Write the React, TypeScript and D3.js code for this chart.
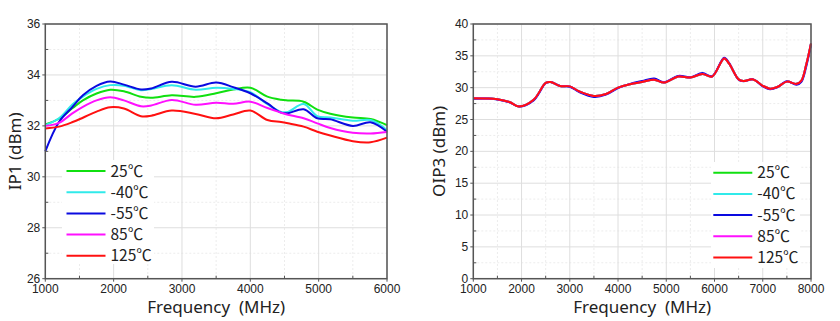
import React from "react";
import * as d3 from "d3";

const seriesNames = ["25℃", "-40℃", "-55℃", "85℃", "125℃"];
const seriesColors = ["#10e010", "#30eaea", "#0a0ae0", "#ff10ff", "#ff1010"];

// IP1 chart (left)
const ip1Freq = [1000, 1200, 1400, 1550, 1750, 1950, 2150, 2400, 2550, 2850, 3200, 3500, 3750, 4000, 4250, 4450, 4550, 4780, 4980, 5170, 5500, 5760, 6000];
const ip1_25 = [32.06, 32.28, 32.7, 33.0, 33.27, 33.42, 33.36, 33.14, 33.1, 33.2, 33.14, 33.28, 33.43, 33.5, 33.15, 33.03, 33.0, 32.95, 32.64, 32.48, 32.33, 32.27, 32.03];
const ip1_m40 = [32.03, 32.3, 32.85, 33.15, 33.45, 33.6, 33.58, 33.4, 33.45, 33.6, 33.42, 33.5, 33.45, 33.32, 32.85, 32.55, 32.55, 32.86, 32.38, 32.33, 32.2, 32.23, 31.84];
const ip1_m55 = [31.0, 32.15, 32.75, 33.2, 33.57, 33.74, 33.62, 33.43, 33.47, 33.73, 33.54, 33.7, 33.52, 33.28, 32.88, 32.52, 32.5, 32.65, 32.3, 32.26, 32.0, 32.14, 31.77];
const ip1_85 = [32.0, 32.12, 32.5, 32.75, 33.0, 33.12, 33.0, 32.77, 32.8, 33.02, 32.83, 32.91, 32.87, 32.95, 32.7, 32.52, 32.44, 32.3, 32.1, 31.92, 31.73, 31.7, 31.76];
const ip1_125 = [31.9, 31.97, 32.15, 32.32, 32.56, 32.73, 32.68, 32.38, 32.4, 32.6, 32.47, 32.3, 32.45, 32.6, 32.23, 32.15, 32.1, 31.97, 31.77, 31.62, 31.4, 31.36, 31.54];
const ip1Series = [ip1_25, ip1_m40, ip1_m55, ip1_85, ip1_125];
const ip1XTicks = [1000, 2000, 3000, 4000, 5000, 6000];
const ip1YTicks = [26, 28, 30, 32, 34, 36];

// OIP3 chart (right)
const oip3Freq = [1000, 1250, 1500, 1750, 1950, 2250, 2500, 2600, 2800, 3000, 3200, 3500, 3750, 4000, 4250, 4500, 4750, 4950, 5250, 5500, 5750, 5950, 6200, 6300, 6500, 6600, 6800, 7000, 7150, 7300, 7500, 7700, 7800, 7900, 8000];
const oip3_25 = [28.33, 28.3, 28.2, 27.75, 27.05, 28.1, 30.75, 30.9, 30.25, 30.2, 29.4, 28.7, 29.0, 30.0, 30.55, 30.9, 31.25, 30.8, 31.75, 31.6, 32.15, 31.75, 34.6, 33.8, 31.3, 31.05, 31.3, 30.3, 29.85, 30.1, 30.95, 30.6, 31.1, 33.6, 36.95];
const oip3_m40 = oip3_25;
const oip3_m55 = [28.25, 28.3, 28.15, 27.7, 27.05, 28.0, 30.7, 30.9, 30.25, 30.15, 29.3, 28.55, 28.9, 29.95, 30.6, 31.05, 31.45, 30.85, 31.85, 31.65, 32.3, 31.8, 34.7, 33.9, 31.25, 31.0, 31.3, 30.2, 29.75, 30.05, 31.0, 30.45, 30.9, 33.3, 36.8];
const oip3_85 = oip3_25;
const oip3_125 = oip3_25;
const oip3Series = [oip3_25, oip3_m40, oip3_m55, oip3_85, oip3_125];
const oip3XTicks = [1000, 2000, 3000, 4000, 5000, 6000, 7000, 8000];
const oip3YTicks = [0, 5, 10, 15, 20, 25, 30, 35, 40];

const tickFont = "'Liberation Sans', Arial, sans-serif";
const titleFont = "'Noto Sans', 'Open Sans', sans-serif";
const legendFont = "'Noto Sans CJK SC', 'Noto Sans', sans-serif";

type PanelProps = {
  left: number; right: number; top: number; bottom: number;
  xDomain: [number, number]; yDomain: [number, number];
  xTicks: number[]; yTicks: number[]; xMinor: number; yMinor: number;
  freq: number[]; series: number[][]; drawOrder: number[];
  yTitle: string; yTitleX: number;
  legendX: number; legendY: number; legendBox: [number, number, number, number];
};

function Panel(p: PanelProps) {
  const x = d3.scaleLinear().domain(p.xDomain).range([p.left, p.right]);
  const y = d3.scaleLinear().domain(p.yDomain).range([p.bottom, p.top]);
  const line = d3.line<number>()
    .x((_, i) => x(p.freq[i]))
    .y((d) => y(d))
    .curve(d3.curveCatmullRom.alpha(0.5));
  const xMinorTicks = d3.range(p.xDomain[0], p.xDomain[1] + 1e-6, p.xMinor).filter((v) => !p.xTicks.includes(v));
  const yMinorTicks = d3.range(p.yDomain[0], p.yDomain[1] + 1e-6, p.yMinor).filter((v) => !p.yTicks.some((t) => Math.abs(t - v) < 1e-6));
  const [bx, by, bw, bh] = p.legendBox;
  return (
    <g>
      {xMinorTicks.map((v) => (
        <line key={"gxm" + v} x1={x(v)} x2={x(v)} y1={p.top} y2={p.bottom} stroke="#ececec" strokeWidth={1} strokeDasharray="2,2" />
      ))}
      {yMinorTicks.map((v) => (
        <line key={"gym" + v} x1={p.left} x2={p.right} y1={y(v)} y2={y(v)} stroke="#ececec" strokeWidth={1} strokeDasharray="2,2" />
      ))}
      {p.xTicks.map((v) => (
        <line key={"gx" + v} x1={x(v)} x2={x(v)} y1={p.top} y2={p.bottom} stroke="#dedede" strokeWidth={1} />
      ))}
      {p.yTicks.map((v) => (
        <line key={"gy" + v} x1={p.left} x2={p.right} y1={y(v)} y2={y(v)} stroke="#dedede" strokeWidth={1} />
      ))}
      <rect x={bx} y={by} width={bw} height={bh} fill="#fff" />
      {p.drawOrder.map((si) => (
        <path key={"s" + si} d={line(p.series[si]) || ""} fill="none" stroke={seriesColors[si]} strokeWidth={2} />
      ))}
      <rect x={p.left} y={p.top} width={p.right - p.left} height={p.bottom - p.top} fill="none" stroke="#555" strokeWidth={1.5} />
      {xMinorTicks.map((v) => (
        <line key={"txm" + v} x1={x(v)} x2={x(v)} y1={p.bottom} y2={p.bottom - 3} stroke="#555" strokeWidth={1} />
      ))}
      {yMinorTicks.map((v) => (
        <line key={"tym" + v} x1={p.left} x2={p.left + 3} y1={y(v)} y2={y(v)} stroke="#555" strokeWidth={1} />
      ))}
      {p.xTicks.map((v) => (
        <g key={"tx" + v}>
          <line x1={x(v)} x2={x(v)} y1={p.bottom} y2={p.bottom + 3} stroke="#555" strokeWidth={1} />
          <text x={x(v)} y={p.bottom + 14} textAnchor="middle" fontFamily={tickFont} fontSize={12} fill="#222">{v}</text>
        </g>
      ))}
      {p.yTicks.map((v) => (
        <g key={"ty" + v}>
          <line x1={p.left - 3} x2={p.left} y1={y(v)} y2={y(v)} stroke="#555" strokeWidth={1} />
          <text x={p.left - 5} y={y(v) + 4} textAnchor="end" fontFamily={tickFont} fontSize={12} fill="#222">{v}</text>
        </g>
      ))}
      <text x={(p.left + p.right) / 2} y={313} textAnchor="middle" fontFamily={titleFont} fontSize={17} fill="#222" style={{ whiteSpace: "pre" }}>{"Frequency  (MHz)"}</text>
      <text transform={`translate(${p.yTitleX},${(p.top + p.bottom) / 2}) rotate(-90)`} textAnchor="middle" fontFamily={titleFont} fontSize={17} fill="#222">{p.yTitle}</text>
      {seriesNames.map((name, i) => (
        <g key={"lg" + i}>
          <line x1={p.legendX} x2={p.legendX + 39} y1={p.legendY + i * 21.2} y2={p.legendY + i * 21.2} stroke={seriesColors[i]} strokeWidth={2} />
          <text x={p.legendX + 44} y={p.legendY + i * 21.2 + 5.5} fontFamily={legendFont} fontSize={15.5} fill="#222">{name}</text>
        </g>
      ))}
    </g>
  );
}

export default function App() {
  return (
    <div style={{ position: "absolute", left: 0, top: 0 }}>
      <svg width={840} height={321} style={{ display: "block", background: "#fff" }}>
        <Panel left={45.3} right={387} top={24} bottom={278.7}
          xDomain={[1000, 6000]} yDomain={[26, 36]}
          xTicks={ip1XTicks} yTicks={ip1YTicks} xMinor={500} yMinor={1}
          freq={ip1Freq} series={ip1Series} drawOrder={[0, 1, 2, 3, 4]}
          yTitle="IP1 (dBm)" yTitleX={21}
          legendX={66.5} legendY={171} legendBox={[62, 160, 92, 104]} />
        <Panel left={473.3} right={811} top={24} bottom={278.7}
          xDomain={[1000, 8000]} yDomain={[0, 40]}
          xTicks={oip3XTicks} yTicks={oip3YTicks} xMinor={500} yMinor={2.5}
          freq={oip3Freq} series={oip3Series} drawOrder={[0, 1, 2, 3, 4]}
          yTitle="OIP3 (dBm)" yTitleX={445}
          legendX={713.3} legendY={172.7} legendBox={[711, 162, 89, 106]} />
      </svg>
    </div>
  );
}
